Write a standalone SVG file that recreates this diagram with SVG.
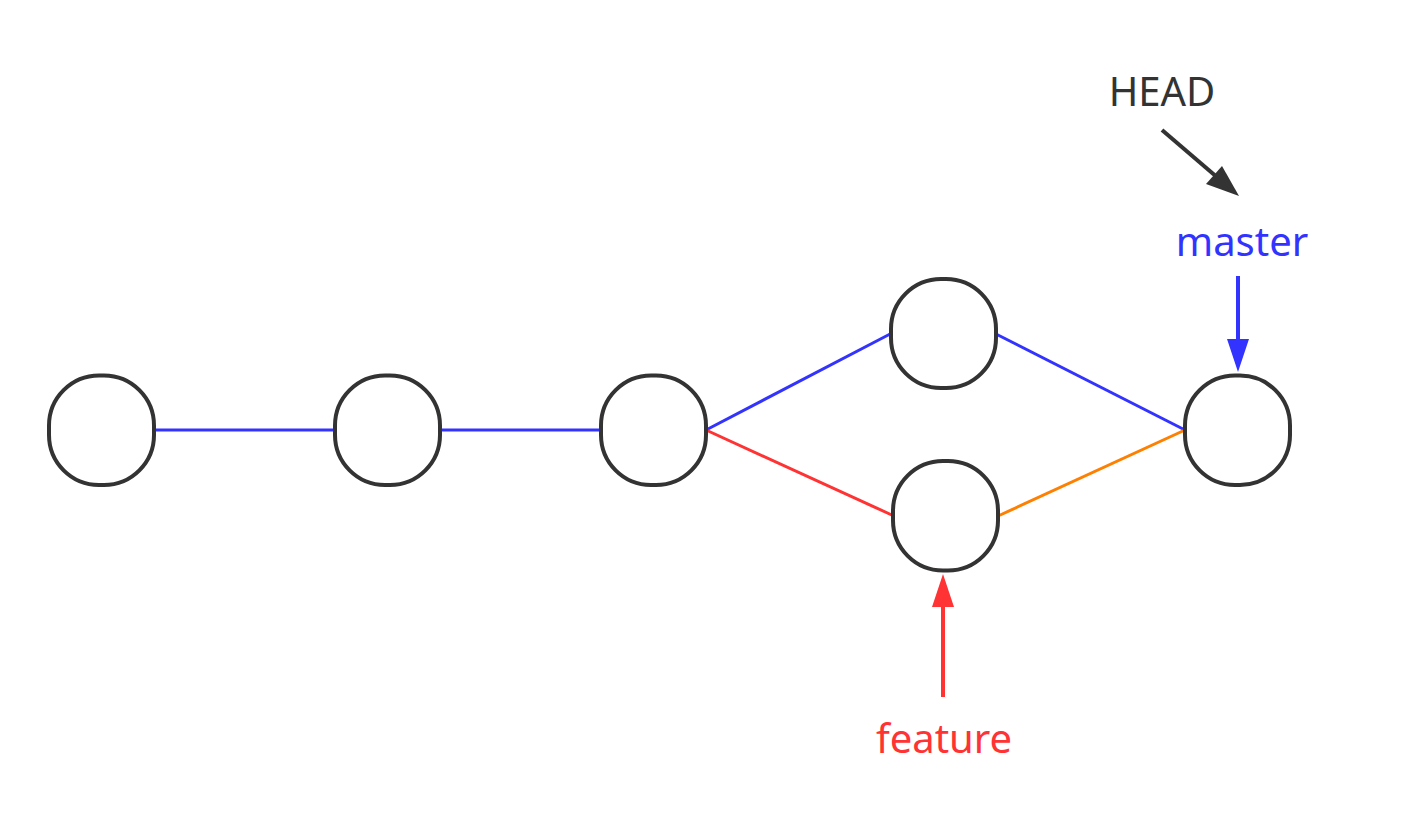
<svg xmlns="http://www.w3.org/2000/svg" width="1412" height="828" viewBox="0 0 1412 828">
<style>
.node{fill:#fff;stroke:#333;stroke-width:4}
.e{fill:none;stroke-width:3}
.t{font-family:"Noto Sans",sans-serif;font-size:40px;text-anchor:middle}
</style>
<rect width="1412" height="828" fill="#fff"/>
<g id="connectors">
<line class="e" x1="155" y1="430" x2="335" y2="430" stroke="#3333ff"/>
<line class="e" x1="440" y1="430" x2="601" y2="430" stroke="#3333ff"/>
<line class="e" x1="706" y1="430" x2="892" y2="333" stroke="#3333ff"/>
<line class="e" x1="996" y1="334" x2="1185" y2="430" stroke="#3333ff"/>
<line class="e" x1="706" y1="430" x2="894" y2="516" stroke="#ff3333"/>
<line class="e" x1="998" y1="516" x2="1185" y2="430" stroke="#ff8000"/>
<g id="head-arrow">
<line x1="1162" y1="130" x2="1218" y2="178" stroke="#333" stroke-width="4"/>
<path d="M1239,196 L1206,184 L1222,166 Z" fill="#333"/>
</g>
<g id="master-arrow">
<line x1="1238" y1="276" x2="1238" y2="345" stroke="#3333ff" stroke-width="4"/>
<path d="M1238,372 L1227,339 L1249,339 Z" fill="#3333ff"/>
</g>
<g id="feature-arrow">
<line x1="943" y1="697" x2="943" y2="600" stroke="#ff3333" stroke-width="4"/>
<path d="M943,574 L932,607 L954,607 Z" fill="#ff3333"/>
</g>
</g>
<g id="n1"><rect class="node" x="49" y="375.5" width="105" height="109.5" rx="50" ry="50"/></g>
<g id="n2"><rect class="node" x="335" y="375.5" width="105" height="109.5" rx="50" ry="50"/></g>
<g id="n3"><rect class="node" x="601" y="375.5" width="105" height="109.5" rx="50" ry="50"/></g>
<g id="n4"><rect class="node" x="891" y="279" width="105" height="109" rx="50" ry="50"/></g>
<g id="n5"><rect class="node" x="893" y="461" width="105" height="109.5" rx="50" ry="50"/></g>
<g id="n6"><rect class="node" x="1185" y="375.5" width="105" height="109.5" rx="50" ry="50"/></g>
<g id="labels">
<text class="t" x="1162" y="106" fill="#333">HEAD</text>
<text class="t" x="1242" y="256" fill="#3333ff">master</text>
<text class="t" x="944" y="753" fill="#ff3333">feature</text>
</g>
</svg>
